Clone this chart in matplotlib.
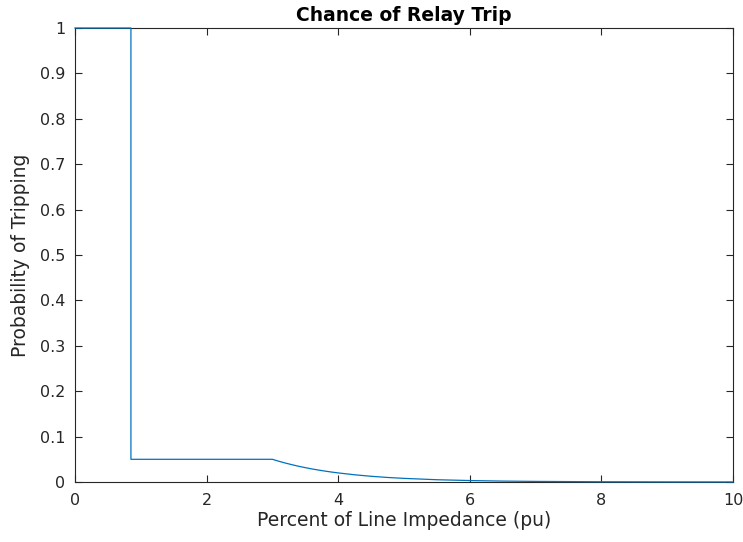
import matplotlib.pyplot as plt

# values
impedance = [0, 0.85, 0.85, 3.0, 3.1, 3.2, 3.3, 3.4, 3.5, 3.6, 3.7, 3.8, 3.9, 4.0,
             4.25, 4.5, 4.75, 5.0, 5.5, 6.0, 6.5, 7.0, 8.0, 9.0, 10.0]
trip_prob = [1, 1, 0.05, 0.05, 0.0456, 0.0416, 0.038, 0.0346, 0.0316, 0.0288, 0.0263, 0.024, 0.0219, 0.020,
             0.0159, 0.0126, 0.010, 0.008, 0.005, 0.0032, 0.002, 0.0013, 0.0005, 0.0002, 0.0001]

xticks = [0, 2, 4, 6, 8, 10]
yticks = [0, 0.1, 0.2, 0.3, 0.4, 0.5, 0.6, 0.7, 0.8, 0.9, 1]
ytick_labels = ['0', '0.1', '0.2', '0.3', '0.4', '0.5', '0.6', '0.7', '0.8', '0.9', '1']

plt.rcParams['font.family'] = ['DejaVu Sans']

fig = plt.figure(figsize=(7.43, 5.42), dpi=100)
ax = fig.add_axes([75 / 743, 1 - 482 / 542, (733 - 75) / 743, (482 - 28) / 542])

# line drawn above the box so the y=1 segment shows blue on the top edge
ax.plot(impedance, trip_prob, color='#0072BD', linewidth=0.9, zorder=3, clip_on=False)

ax.set_xlim(0, 10)
ax.set_ylim(0, 1)
ax.set_xticks(xticks)
ax.set_yticks(yticks)
ax.set_yticklabels(ytick_labels)

dark = '#262626'
for s in ax.spines.values():
    s.set_color(dark)
    s.set_linewidth(0.8)
ax.tick_params(direction='in', length=5, width=0.8, colors=dark, labelsize=11.5,
               top=True, right=True)
ax.tick_params(axis='x', pad=8)
ax.tick_params(axis='y', pad=7)

ax.set_xlabel('Percent of Line Impedance (pu)', fontsize=13.5, color=dark, labelpad=2)
ax.set_ylabel('Probability of Tripping', fontsize=13.5, color=dark, labelpad=7)
ax.set_title('Chance of Relay Trip', fontsize=13.5, fontweight='bold', color='black', pad=5)

fig.savefig('out.png', dpi=100)
